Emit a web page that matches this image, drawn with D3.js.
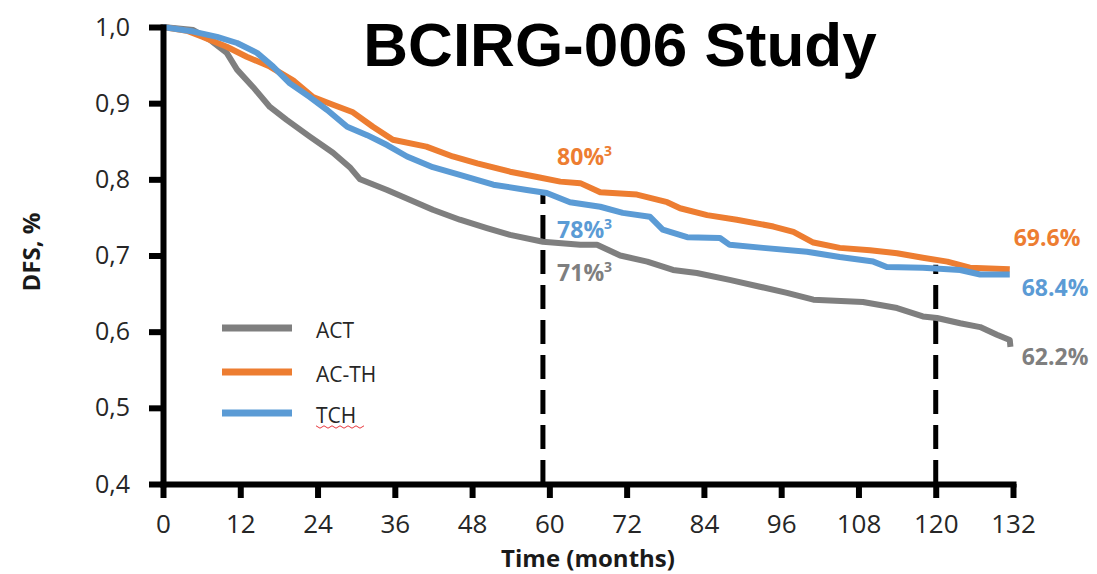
<!DOCTYPE html>
<html>
<head>
<meta charset="utf-8">
<script src="https://cdn.jsdelivr.net/npm/d3@7"></script>
<style>
  html, body { margin: 0; padding: 0; background: #fff; }
  svg { display: block; }
</style>
</head>
<body>
<svg id="chart" width="1097" height="574"></svg>
<script>
// ---- data ----
const seriesNames = ["ACT", "AC-TH", "TCH"];
const seriesColors = ["#7F7F7F", "#ED7D31", "#5B9BD5"];

const timeACT = [0,4.7,7.3,9.9,11.5,14,16.6,19.2,22.8,26.4,29,30.6,34.8,38.4,41.9,46.1,50.3,53.9,59,64.8,67.4,71,75.2,79.2,82.9,88,92.7,96.9,101,108.7,114,118,120.2,123.8,126.9,129.5,131.5,131.6];
const dfsACT  = [1,0.996,0.983,0.966,0.944,0.921,0.895,0.878,0.856,0.835,0.816,0.80,0.786,0.773,0.76,0.747,0.736,0.727,0.718,0.714,0.714,0.70,0.692,0.681,0.677,0.668,0.659,0.651,0.642,0.639,0.631,0.62,0.618,0.611,0.606,0.596,0.589,0.58];

const timeACTH = [0,3.7,6.2,9.9,13,16.6,20.2,23.3,26.4,29.5,32.6,35.7,40.9,45,48.8,53.9,58.1,61.7,64.8,67.9,73.6,78.3,80.3,84.5,89.1,94.8,97.9,101,105.1,109.8,114,118,121.8,125.3,131.5];
const dfsACTH  = [1,0.995,0.987,0.974,0.961,0.948,0.93,0.908,0.898,0.888,0.869,0.852,0.843,0.83,0.821,0.81,0.803,0.797,0.795,0.783,0.78,0.77,0.762,0.753,0.747,0.738,0.731,0.717,0.71,0.707,0.703,0.697,0.692,0.684,0.682];

const timeTCH = [0,4.7,8.4,11.5,14.6,17.1,19.7,22.8,25.5,28.6,31.7,34.8,37.9,41.9,46.1,51.3,56.5,59.6,63.2,67.9,71.4,75.6,77.6,81.4,86.5,88,93.2,100,105.1,110.3,112.4,118,123.8,126.9,131.5];
const dfsTCH  = [1,0.994,0.987,0.979,0.966,0.948,0.926,0.908,0.891,0.869,0.858,0.845,0.83,0.816,0.806,0.793,0.786,0.782,0.77,0.764,0.756,0.751,0.734,0.724,0.723,0.714,0.71,0.705,0.698,0.692,0.685,0.684,0.681,0.675,0.675];

const xTicks = [0,12,24,36,48,60,72,84,96,108,120,132];
const yTicks = [0.4,0.5,0.6,0.7,0.8,0.9,1.0];

const markerTimes = [59, 120];
const markerTops  = [0.786, 0.688];

// annotation labels: series index, text, value position
const midSeries   = [1, 2, 0];
const midLabels   = ["80%", "78%", "71%"];      // near 5 years
const midLabelVal = [0.829, 0.734, 0.677];
const endSeries   = [1, 2, 0];
const endLabels   = ["69.6%", "68.4%", "62.2%"]; // at end
const endLabelVal = [0.723, 0.657, 0.567];

const titleText = "BCIRG-006 Study";
const xLabel = "Time (months)";
const yLabel = "DFS, %";

// ---- layout ----
const svg = d3.select("#chart");
const x = d3.scaleLinear().domain([0, 132]).range([163, 1013]);
const y = d3.scaleLinear().domain([0.4, 1.0]).range([484, 27]);
const tickFont = "'Open Sans', 'DejaVu Sans', sans-serif";

// dashed markers (under the curves)
svg.append("g").selectAll("line").data(markerTimes).join("line")
  .attr("x1", d => x(d)).attr("x2", d => x(d))
  .attr("y1", y(0.4)).attr("y2", (d, i) => y(markerTops[i]))
  .attr("stroke", "#000").attr("stroke-width", 5)
  .attr("stroke-dasharray", "24,11");

// curves
const series = [
  { t: timeACT, v: dfsACT },
  { t: timeACTH, v: dfsACTH },
  { t: timeTCH, v: dfsTCH }
];
const line = d3.line().x(d => x(d[0])).y(d => y(d[1])).curve(d3.curveLinear);
series.forEach((s, i) => {
  const pts = s.t.map((t, j) => [t, s.v[j]]);
  svg.append("path").datum(pts)
    .attr("d", line).attr("fill", "none")
    .attr("stroke", seriesColors[i]).attr("stroke-width", 6)
    .attr("stroke-linejoin", "round").attr("stroke-linecap", "butt");
});

// axes
const yAxis = d3.axisLeft(y).tickValues(yTicks).tickSize(14).tickSizeOuter(0).tickPadding(19)
  .tickFormat(d => d3.format(".1f")(d).replace(".", ","));
const gy = svg.append("g").attr("transform", `translate(${x(0)},0)`).call(yAxis);

const xAxis = d3.axisBottom(x).tickValues(xTicks).tickSize(14).tickSizeOuter(0).tickPadding(17);
const gx = svg.append("g").attr("transform", `translate(0,${y(0.4)})`).call(xAxis);

[gy, gx].forEach(g => {
  g.select(".domain").attr("stroke", "#000").attr("stroke-width", 6).attr("stroke-linecap", "square");
  g.selectAll(".tick line").attr("stroke", "#000").attr("stroke-width", 6);
  g.selectAll(".tick text").attr("fill", "#262626").attr("font-family", tickFont);
});
gy.selectAll(".tick text").attr("font-size", 25);
gx.selectAll(".tick text").attr("font-size", 26);

// axis titles
svg.append("text").attr("x", x(66)).attr("y", 567)
  .attr("text-anchor", "middle").attr("font-family", tickFont)
  .attr("font-weight", "bold").attr("font-size", 24).attr("fill", "#1a1a1a")
  .text(xLabel);
svg.append("text").attr("transform", "translate(40,252) rotate(-90)")
  .attr("text-anchor", "middle").attr("font-family", tickFont)
  .attr("font-weight", "bold").attr("font-size", 24).attr("fill", "#1a1a1a")
  .text(yLabel);

// title
svg.append("text").attr("x", 620).attr("y", 66)
  .attr("text-anchor", "middle").attr("font-family", "'Liberation Sans', Arial, sans-serif")
  .attr("font-weight", "bold").attr("font-size", 62).attr("fill", "#000")
  .text(titleText);

// mid labels with superscript 3
const mid = svg.append("g");
midLabels.forEach((lab, i) => {
  const t = mid.append("text").attr("x", x(61.2)).attr("y", y(midLabelVal[i]) + 8)
    .attr("font-family", tickFont).attr("font-weight", "bold").attr("font-size", 23)
    .attr("fill", seriesColors[midSeries[i]]);
  t.append("tspan").text(lab);
  t.append("tspan").attr("dy", -9).attr("font-size", 14).text("3");
});

// end labels
const endX = [1047, 1055, 1055];
endLabels.forEach((lab, i) => {
  svg.append("text").attr("x", endX[i]).attr("y", y(endLabelVal[i]) + 8)
    .attr("text-anchor", "middle")
    .attr("font-family", tickFont).attr("font-weight", "bold").attr("font-size", 23)
    .attr("fill", seriesColors[endSeries[i]])
    .text(lab);
});

// legend
const legendY = [328, 372, 413];
const lg = svg.append("g");
seriesNames.forEach((name, i) => {
  lg.append("line").attr("x1", 222).attr("x2", 292)
    .attr("y1", legendY[i]).attr("y2", legendY[i])
    .attr("stroke", seriesColors[i]).attr("stroke-width", 7);
  lg.append("text").attr("x", 316).attr("y", legendY[i] + 10)
    .attr("font-family", tickFont).attr("font-size", 21).attr("fill", "#262626")
    .text(name);
});
// spell-check squiggle under "TCH"
const sq = d3.range(0, 13).map(k => [316 + k * 4, 427 + (k % 2 ? 1.2 : -1.2)]);
lg.append("path").attr("d", d3.line()(sq)).attr("fill", "none")
  .attr("stroke", "#e8383d").attr("stroke-width", 1);
</script>
</body>
</html>
